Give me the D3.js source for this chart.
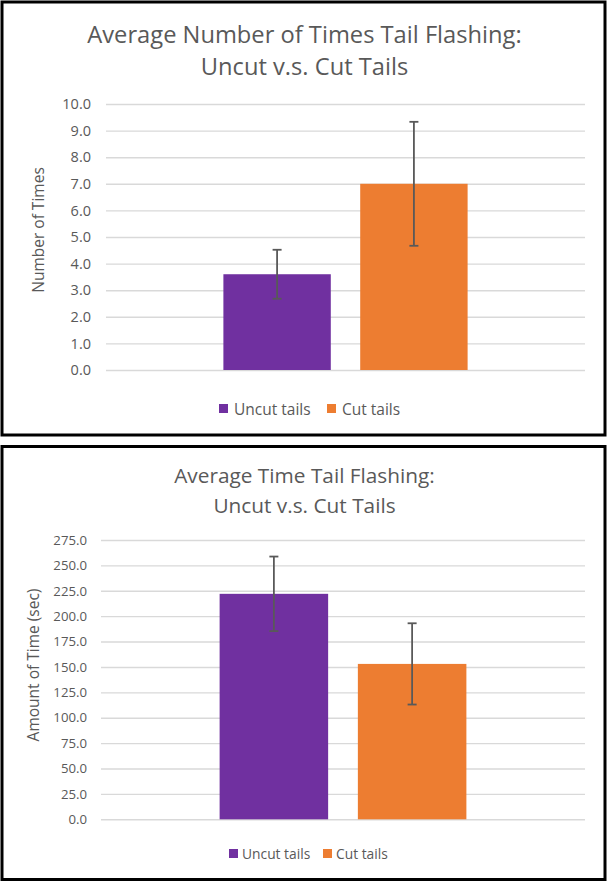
<!DOCTYPE html>
<html>
<head>
<meta charset="utf-8">
<script src="https://cdn.jsdelivr.net/npm/d3@7/dist/d3.min.js"></script>
<style>
  html, body { margin: 0; padding: 0; background: #fff; }
  svg { display: block; }
  text { font-family: "Open Sans", Lato, sans-serif; fill: #595959; }
</style>
</head>
<body>
<svg id="chart" width="608" height="881"></svg>
<script>
// ---- Data ----
const seriesNames = ["Uncut tails", "Cut tails"];
const seriesColors = ["#7030A0", "#ED7D31"];

const chart1Title = ["Average Number of Times Tail Flashing:", "Uncut v.s. Cut Tails"];
const chart1YLabel = "Number of Times";
const chart1Values = [3.6, 7.0];
const chart1Errors = [0.92, 2.33];
const chart1Ticks = [0, 1, 2, 3, 4, 5, 6, 7, 8, 9, 10];

const chart2Title = ["Average Time Tail Flashing:", "Uncut v.s. Cut Tails"];
const chart2YLabel = "Amount of Time (sec)";
const chart2Values = [222, 153];
const chart2Errors = [36.7, 40];
const chart2Ticks = [0, 25, 50, 75, 100, 125, 150, 175, 200, 225, 250, 275];

const svg = d3.select("#chart");
const FONT = "'Open Sans', Lato, sans-serif";

function drawPanel(cfg) {
  const g = svg.append("g");
  // frame
  g.append("rect")
    .attr("x", 2).attr("y", cfg.top)
    .attr("width", 603).attr("height", 433)
    .attr("fill", "#fff").attr("stroke", "#000").attr("stroke-width", 3);

  // title
  g.selectAll("text.title").data(cfg.title).join("text")
    .attr("class", "title")
    .attr("x", 304.5)
    .attr("y", (d, i) => cfg.top + cfg.titleY + i * cfg.titleGap)
    .attr("text-anchor", "middle")
    .attr("font-size", cfg.titleSize)
    .text(d => d);

  const y = d3.scaleLinear()
    .domain([0, d3.max(cfg.ticks)])
    .range([cfg.top + cfg.plotBottom, cfg.top + cfg.plotTop]);

  const x = d3.scaleBand()
    .domain(seriesNames)
    .range([cfg.plotLeft, cfg.plotRight])
    .paddingInner(0.215)
    .paddingOuter(0.858);

  // gridlines + tick labels via axis
  const axis = d3.axisLeft(y)
    .tickValues(cfg.ticks)
    .tickFormat(d3.format(".1f"))
    .tickSize(-(cfg.plotRight - cfg.plotLeft))
    .tickPadding(cfg.tickPad);
  const ag = g.append("g")
    .attr("transform", `translate(${cfg.plotLeft},0)`)
    .call(axis);
  ag.select(".domain").remove();
  ag.selectAll(".tick line").attr("stroke", "#d9d9d9").attr("stroke-width", 1.4);
  ag.selectAll(".tick text")
    .attr("font-size", cfg.tickSize)
    .attr("fill", "#595959")
    .style("font-family", FONT);

  // bars
  g.selectAll("rect.bar").data(cfg.values).join("rect")
    .attr("class", "bar")
    .attr("x", (d, i) => x(seriesNames[i]))
    .attr("width", x.bandwidth())
    .attr("y", d => y(d))
    .attr("height", d => y(0) - y(d))
    .attr("fill", (d, i) => seriesColors[i]);

  // error bars
  const eb = g.selectAll("g.err").data(cfg.values).join("g").attr("class", "err");
  eb.append("line")
    .attr("x1", (d, i) => x(seriesNames[i]) + x.bandwidth() / 2)
    .attr("x2", (d, i) => x(seriesNames[i]) + x.bandwidth() / 2)
    .attr("y1", (d, i) => y(d + cfg.errors[i]))
    .attr("y2", (d, i) => y(d - cfg.errors[i]))
    .attr("stroke", "#595959").attr("stroke-width", 1.8);
  [1, -1].forEach(s => {
    eb.append("line")
      .attr("x1", (d, i) => x(seriesNames[i]) + x.bandwidth() / 2 - 4.5)
      .attr("x2", (d, i) => x(seriesNames[i]) + x.bandwidth() / 2 + 4.5)
      .attr("y1", (d, i) => y(d + s * cfg.errors[i]))
      .attr("y2", (d, i) => y(d + s * cfg.errors[i]))
      .attr("stroke", "#595959").attr("stroke-width", 1.8);
  });

  // y axis title
  g.append("text")
    .attr("transform", `translate(${cfg.yTitleX},${cfg.top + cfg.yTitleY}) rotate(-90)`)
    .attr("text-anchor", "middle")
    .attr("dominant-baseline", "central")
    .attr("font-size", 15.5)
    .text(cfg.yLabel);

  // legend
  const lg = g.selectAll("g.leg").data(seriesNames).join("g")
    .attr("class", "leg")
    .attr("transform", (d, i) => `translate(${cfg.legendX[i]},${cfg.top + cfg.legendY})`);
  lg.append("rect")
    .attr("x", 0).attr("y", -4.5)
    .attr("width", 9).attr("height", 9)
    .attr("fill", (d, i) => seriesColors[i]);
  lg.append("text")
    .attr("x", cfg.legendTextDx).attr("y", 0)
    .attr("dominant-baseline", "central")
    .attr("font-size", cfg.legendSize)
    .text(d => d);
}

drawPanel({
  top: 2, title: chart1Title, titleY: 41, titleSize: 23.7, titleGap: 32,
  values: chart1Values, errors: chart1Errors, ticks: chart1Ticks,
  plotLeft: 106, plotRight: 585, plotTop: 102, plotBottom: 368,
  tickPad: 15, tickSize: 14.5, yLabel: chart1YLabel, yTitleX: 38, yTitleY: 228,
  legendX: [219, 327], legendY: 406.5, legendSize: 15.5, legendTextDx: 15
});

drawPanel({
  top: 446.5, title: chart2Title, titleY: 36, titleSize: 20.8, titleGap: 30,
  values: chart2Values, errors: chart2Errors, ticks: chart2Ticks,
  plotLeft: 101, plotRight: 585, plotTop: 93.5, plotBottom: 372.8,
  tickPad: 14, tickSize: 13.2, yLabel: chart2YLabel, yTitleX: 32.5, yTitleY: 218.5,
  legendX: [229, 323], legendY: 407, legendSize: 13.8, legendTextDx: 13
});
</script>
</body>
</html>
